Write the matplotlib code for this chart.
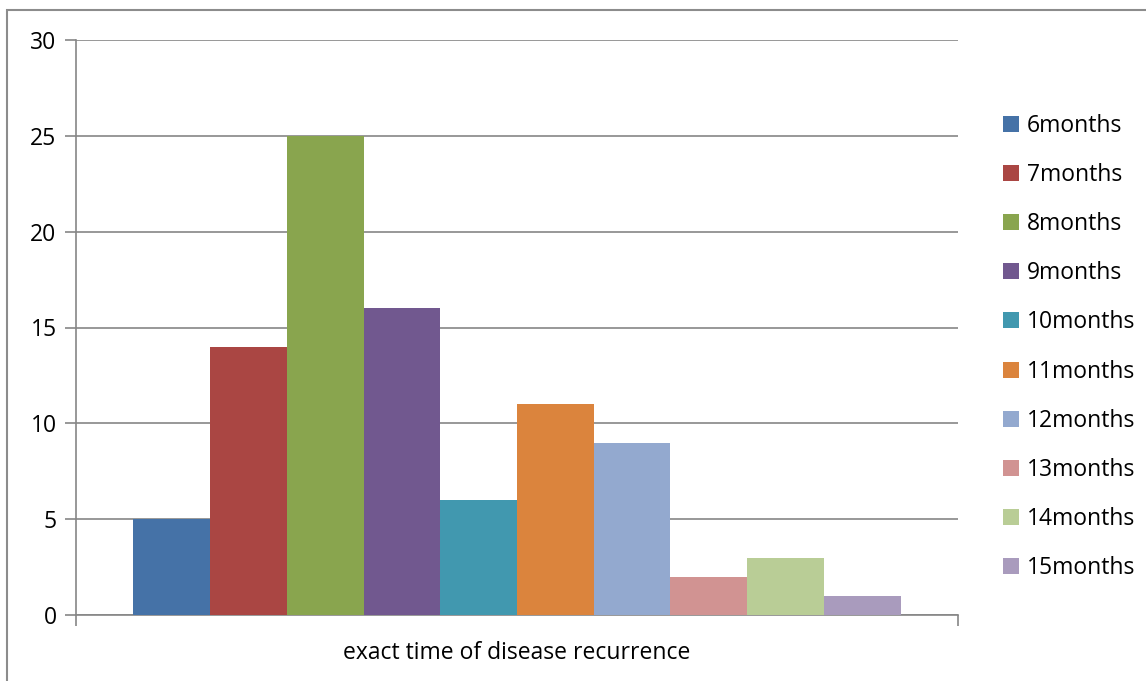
import matplotlib.pyplot as plt
from matplotlib.patches import Rectangle

plt.rcParams['font.family'] = ['Open Sans', 'DejaVu Sans']

# data
labels = ['6months', '7months', '8months', '9months', '10months',
          '11months', '12months', '13months', '14months', '15months']
values = [5, 14, 25, 16, 6, 11, 9, 2, 3, 1]
colors = ['#4572A7', '#AA4643', '#89A54E', '#71588F', '#4198AF',
          '#DB843D', '#93A9CF', '#D19392', '#B9CD96', '#A99BBD']

W, H = 1146, 681
fig = plt.figure(figsize=(W / 100, H / 100), dpi=100)
ax = fig.add_axes([76 / W, 1 - 615 / H, (958 - 76) / W, (615 - 40) / H])

# outer chart border (only left and top visible)
fig.patches.append(Rectangle((7 / W, -0.1), 1.2, 1 - 10 / H + 0.1,
                             transform=fig.transFigure, fill=False,
                             edgecolor='#8c8c8c', linewidth=1.5))

group = 0.87
bw = group / len(values)
for i, (lab, v, c) in enumerate(zip(labels, values, colors)):
    x = -group / 2 + (i + 0.5) * bw
    ax.bar(x, v, width=bw, color=c, label=lab, zorder=3)

ax.set_xlim(-0.5, 0.5)
ax.set_ylim(0, 30)
ax.set_yticks(range(0, 31, 5))
ax.set_xticks([-0.5, 0.5])
ax.set_xticklabels([])
ax.yaxis.grid(True, color='#868686', linewidth=1.2, zorder=0)
ax.tick_params(axis='y', length=8, color='#868686', width=1.2,
               labelsize=16.5, pad=6)
ax.tick_params(axis='x', length=8, color='#868686', width=1.2)
for s in ['top', 'right']:
    ax.spines[s].set_visible(False)
for s in ['left', 'bottom']:
    ax.spines[s].set_color('#868686')
    ax.spines[s].set_linewidth(1.2)

ax.set_xlabel('exact time of disease recurrence', fontsize=16.5, labelpad=7)

fig.legend(loc='center left', bbox_to_anchor=(982 / W, 1 - 347 / H),
           frameon=False, fontsize=16.5, handlelength=0.7, handleheight=0.7,
           handletextpad=0.35, labelspacing=1.1)

fig.savefig('out.png', dpi=100)
